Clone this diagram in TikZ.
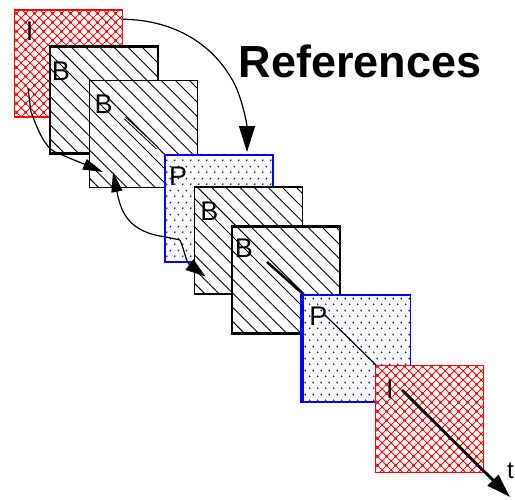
\documentclass[tikz,border=0pt]{standalone}
\usepackage{fontspec}
\setmainfont{Liberation Sans}
\usetikzlibrary{positioning, calc, patterns.meta, arrows.meta}

\pgfdeclarepatternformonly{redmesh}{\pgfpointorigin}{\pgfpoint{8.6pt}{8.6pt}}{\pgfpoint{8.6pt}{8.6pt}}{
  \pgfsetlinewidth{0.75pt}
  \pgfpathmoveto{\pgfpointorigin}\pgfpathlineto{\pgfpoint{8.6pt}{8.6pt}}
  \pgfpathmoveto{\pgfpoint{0pt}{8.6pt}}\pgfpathlineto{\pgfpoint{8.6pt}{0pt}}
  \pgfusepath{stroke}
  \pgfpathcircle{\pgfpoint{4.3pt}{4.3pt}}{1.2pt}
  \pgfpathcircle{\pgfpointorigin}{1.2pt}
  \pgfpathcircle{\pgfpoint{8.6pt}{0pt}}{1.2pt}
  \pgfpathcircle{\pgfpoint{0pt}{8.6pt}}{1.2pt}
  \pgfpathcircle{\pgfpoint{8.6pt}{8.6pt}}{1.2pt}
  \pgfusepath{fill}
}

\pgfdeclarepatternformonly{bluedots}{\pgfpointorigin}{\pgfpoint{7.5pt}{12pt}}{\pgfpoint{7.5pt}{12pt}}{
  \pgfpathcircle{\pgfpoint{1.875pt}{3pt}}{1pt}
  \pgfpathcircle{\pgfpoint{5.625pt}{9pt}}{1pt}
  \pgfusepath{fill}
}

\begin{document}
\begin{tikzpicture}[x=1pt, y=-1pt,
frame/.style = {rectangle, minimum width=108pt, minimum height=107pt, inner sep=0pt, preaction={fill=white}},
iframe/.style = {frame, draw=red, pattern=redmesh, pattern color=red},
bframe/.style = {frame, draw=black, pattern={Lines[angle=-45, distance=10pt, line width=0.9pt]}},
pframe/.style = {frame, draw=blue, pattern=bluedots, pattern color=blue},
letter/.style = {font=\fontsize{27}{27}\selectfont, inner sep=0pt},
ref/.style = {line width=1.2pt, -{Triangle[length=20pt, width=11pt]}},
axis/.style = {black, line cap=butt}]

  \useasboundingbox (0,0) rectangle (515,499);

  \node[iframe, line width=1.5pt] (i1) at (68.5,63.5) {};
  \node[bframe, line width=2.5pt] (b1) at (104,100) {};
  \node[bframe, line width=1pt] (b2) at (143,134) {};

  \coordinate (t1) at (125,118);
  \coordinate (t2) at (157,148);
  \draw[axis, line width=1pt, double, double distance=1pt] (t1) -- (t2);

  \node[pframe, line width=2pt] (p1) at (219,208.5) {};
  \node[bframe, line width=1.8pt] (b3) at (248.5,240.5) {};
  \node[bframe, line width=2.5pt] (b4) at (286,280) {};

  \coordinate (t3) at (267,262);
  \coordinate (t4) at (303,294);
  \draw[axis, line width=2.5pt] (t3) -- (t4);

  \node[pframe, line width=1.5pt] (p2) at (356.5,348.5) {};
  \draw[blue, line width=3.5pt] (p2.north west) -- (p2.south west);

  \coordinate (t5) at (325,315);
  \coordinate (t6) at (377,366);
  \draw[axis, line width=1.2pt] (t5) -- (t6);

  \node[iframe, line width=1.2pt] (i2) at (429.5,419) {};

  \coordinate (t7) at (402,390);
  \coordinate (t8) at (510,497);
  \draw[axis, line width=2.8pt, -{Triangle[length=24pt, width=15pt]}] (t7) -- (t8);

  \node[letter] (i1_lbl) [below right=12pt and 12pt of i1.north west] {I};
  \node[letter] (b1_lbl) [below right=16.5pt and 3pt of b1.north west] {B};
  \node[letter] (b2_lbl) [below right=14.5pt and 6pt of b2.north west] {B};
  \node[letter] (p1_lbl) [below right=13pt and 5pt of p1.north west] {P};
  \node[letter] (b3_lbl) [below right=16pt and 6.5pt of b3.north west] {B};
  \node[letter] (b4_lbl) [below right=13.5pt and 4pt of b4.north west] {B};
  \node[letter] (p2_lbl) [below right=12pt and 7.5pt of p2.north west] {P};
  \node[letter] (i2_lbl) [below right=14.5pt and 11pt of i2.north west] {I};

  \node[font=\fontsize{24}{24}\selectfont, inner sep=0pt, anchor=base west] (t_lbl) at (507,478) {t};
  \node[font=\fontsize{45}{45}\selectfont\bfseries, inner sep=0pt, anchor=base west] (refs) at (238.5,77) {References};

  \coordinate (p1ref) at ($(p1.center)+(-39,31.5)$);

  \draw[ref, -{Triangle[length=26pt, width=16pt]}] ($(i1.north east)+(0,10)$) .. controls (175,20) and (215,45) .. (235,85) .. controls (243,102) and (247,125) .. ($(p1.north)+(28,-2)$);
  \draw[ref] ($(i1.center)+(-40.5,24.5)$) -- (31,112) .. controls (38,130) and (44,146) .. (55,152) -- ($(b2.center)+(-40,38)$);
  \draw[ref] (p1ref) -- (166,237) .. controls (128,232) and (121,212) .. ($(b2.center)+(-30,38)$);
  \draw[ref, -{Triangle[length=20pt, width=13pt]}] (p1ref) .. controls (185,252) and (186,262) .. ($(b3.center)+(-43,36)$);

\end{tikzpicture}
\end{document}
